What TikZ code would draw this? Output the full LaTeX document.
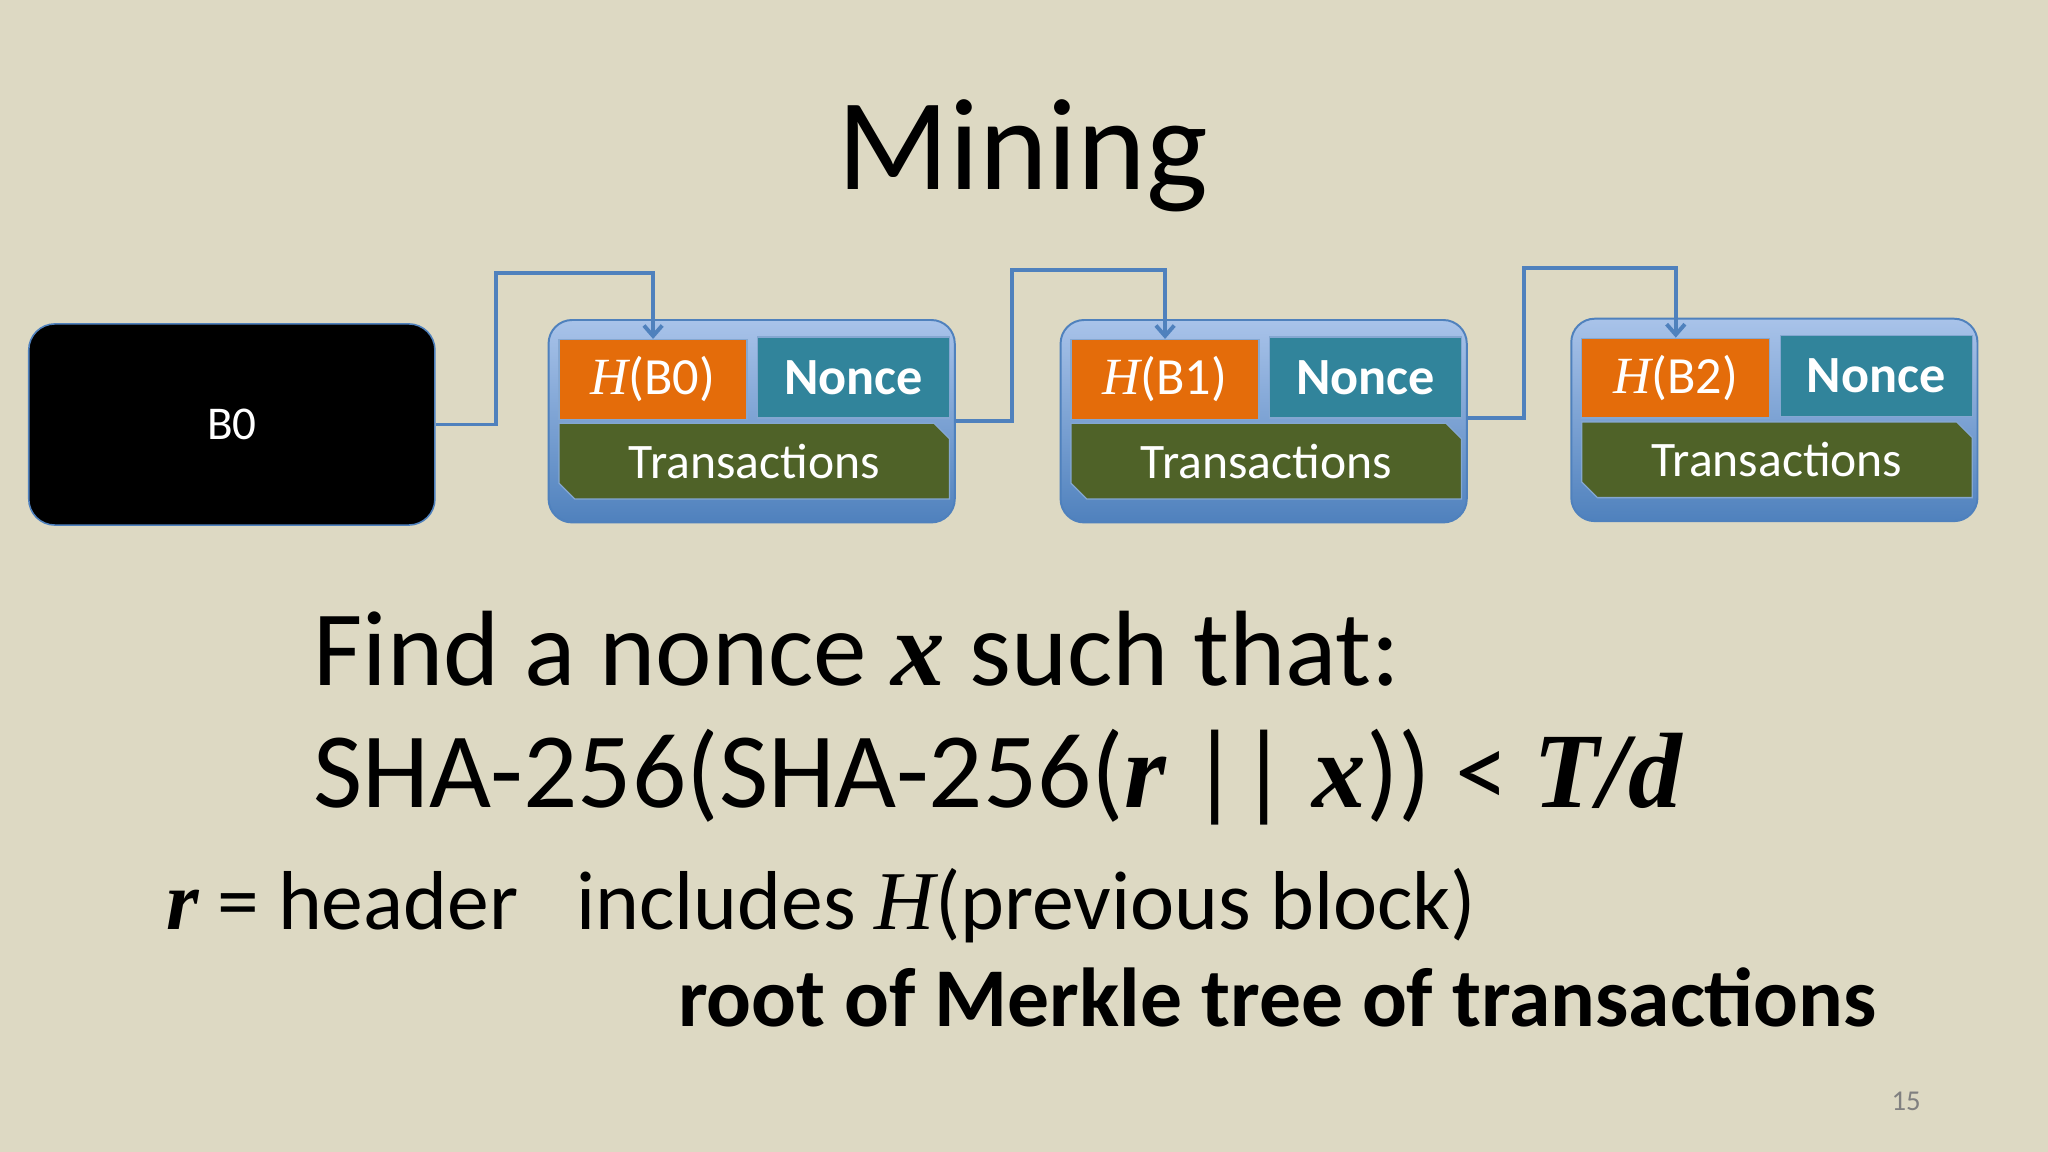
\documentclass[tikz,border=0pt]{standalone}
\usepackage{fontspec}
\setmainfont{Carlito}
\newfontfamily\tms{Liberation Serif}
\usetikzlibrary{arrows.meta,shapes.misc}
\definecolor{bg}{HTML}{DDD9C3}
\definecolor{lnk}{HTML}{4F81BD}
\definecolor{outer}{HTML}{6F9BDB}
\definecolor{org}{HTML}{E46C0A}
\definecolor{teal}{HTML}{31849B}
\definecolor{grn}{HTML}{4F6228}
\newcommand{\mi}[1]{{\tms\itshape #1}}
\newcommand{\mb}[1]{{\tms\bfseries\itshape #1}}
\begin{document}
\begin{tikzpicture}[x=1pt,y=-1pt,
  outerbox/.style={draw=lnk,line width=1.5pt,rounded corners=18pt,top color=outer!60,bottom color=lnk},
  hbox/.style={fill=org,draw=lnk!70,line width=1pt,text=white,font=\fontsize{40}{44}\selectfont},
  nbox/.style={fill=teal,draw=lnk!70,line width=1pt,text=white,font=\fontsize{40}{44}\selectfont\bfseries},
  tbox/.style={fill=grn,draw=lnk!70,line width=1pt,text=white,font=\fontsize{38}{42}\selectfont,chamfered rectangle,chamfered rectangle corners={north east,south west},chamfered rectangle xsep=6pt,chamfered rectangle ysep=6pt},
  link/.style={draw=lnk,line width=3pt,-{Straight Barb[length=8pt,width=14pt]}},
  body/.style={anchor=base west,inner sep=0pt}]
\fill[bg] (0,0) rectangle (1568,882);
\useasboundingbox (0,0) rectangle (1568,882);
\node[anchor=base,inner sep=0pt,font=\fontsize{100}{110}\selectfont] (title) at (783,145) {Mining};
\node[draw=lnk,line width=1.2pt,fill=black,rounded corners=20pt,minimum width=311pt,minimum height=154pt,text=white,font=\fontsize{36}{40}\selectfont] (b0) at (177.5,325) {B0};
\foreach \i/\dx/\dy/\lab in {1/0/0/B0,2/392/0/B1,3/783/-1/B2}{
  \node[outerbox,minimum width=311pt,minimum height=155pt] (o\i) at (575.5+\dx,322.5+\dy) {};
  \node[hbox,minimum width=144pt,minimum height=61pt] (h\i) at (500+\dx,290.5+\dy) {\mi{H}(\lab)};
  \node[nbox,minimum width=147pt,minimum height=62pt] (n\i) at (653.5+\dx,289+\dy) {Nonce};
  \node[tbox,minimum width=299pt,minimum height=58pt] (t\i) at (577.5+\dx,353+\dy) {Transactions};
}
\draw[link] (b0.east|-0,325) -| (380,209) -| (h1.north);
\draw[link] (o1.east|-0,322) -| (775,207) -| (h2.north);
\draw[link] (o2.east|-0,320) -| (1167,205) -| (h3.north);
\node[body,font=\fontsize{82}{90}\selectfont] (l1) at (240,525) {Find a nonce \mb{x} such that:};
\node[body,font=\fontsize{82}{90}\selectfont] (l2) at (240,618) {SHA-256(SHA-256(\mb{r} || \mb{x})) < \mb{T/d}};
\node[body,font=\fontsize{64}{70}\selectfont] (l3) at (127,712) {\mb{r} = header};
\node[body,font=\fontsize{64}{70}\selectfont] (l4) at (441,712) {includes \mi{H}(previous block)};
\node[body,font=\fontsize{64}{70}\selectfont\bfseries] (l5) at (519,786) {root of Merkle tree of transactions};
\node[body,font=\fontsize{22}{24}\selectfont,text=gray] (pg) at (1448,850) {15};
\end{tikzpicture}
\end{document}
